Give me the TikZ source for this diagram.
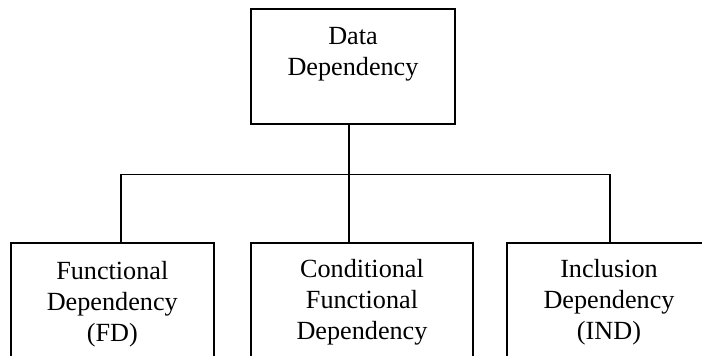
\documentclass[tikz,border=0pt]{standalone}
\usepackage{fontspec}
\setmainfont{Liberation Serif}
\tikzset{
    box/.style={rectangle,draw,line width=0.9pt,minimum height=75pt},
    lbl/.style={align=center,inner sep=0pt,anchor=north,font=\fontsize{13.1pt}{15.5pt}\selectfont},
    link/.style={-,line width=0.9pt,draw=black},
}

\begin{document}
\begin{tikzpicture}[x=0.5pt,y=-0.5pt]
    \clip (0,0) rectangle (702,355);
    \node[box,minimum width=102pt,minimum height=57.5pt] (dd) at (353,66.5) {};
    \node[box,minimum width=101.7pt] (fd) at (112.3,318) {};
    \node[box,minimum width=111pt] (cfd) at (362,318) {};
    \node[box,minimum width=102pt] (ind) at (609,318) {};
    \node[lbl] (ddt) at ([yshift=-9.5pt]dd.north) {Data\\Dependency};
    \node[lbl] (fdt) at ([yshift=-9.2pt]fd.north) {Functional\\Dependency\\(FD)};
    \node[lbl] (cfdt) at ([yshift=-8.5pt]cfd.north) {Conditional\\Functional\\Dependency};
    \node[lbl] (indt) at ([yshift=-8.5pt]ind.north) {Inclusion\\Dependency\\(IND)};
    \draw[link] ([xshift=-2pt]dd.south) -- ++(0,49.5) coordinate (hub);
    \draw[link] ([xshift=4.2pt]fd.north) |- (hub) -| ([xshift=0.5pt]ind.north);
    \draw[link] (hub) -- ([xshift=-6.5pt]cfd.north);
\end{tikzpicture}
\end{document}
